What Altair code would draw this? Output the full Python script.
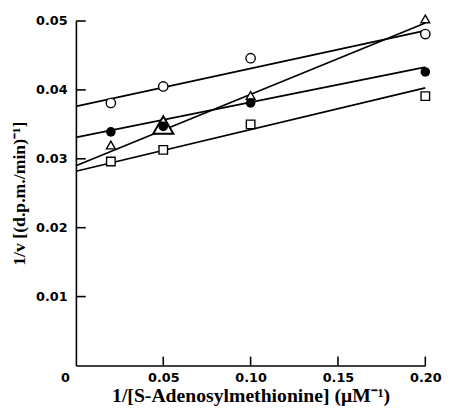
import altair as alt
import pandas as pd

# reciprocal substrate concentrations (uM^-1)
conc_inv = [0.02, 0.05, 0.10, 0.20]
# 1/v values for the four series
open_circle = [0.0381, 0.0405, 0.0446, 0.0481]
filled_circle = [0.0339, 0.0347, 0.0381, 0.0426]
open_triangle = [0.0320, 0.0349, 0.0392, 0.0503]
open_square = [0.0296, 0.0313, 0.0350, 0.0391]

# fitted straight lines (end values at x = 0 and x = 0.20)
fit_x = [0.0, 0.20]
fit_open_circle = [0.0376, 0.0486]
fit_filled_circle = [0.0331, 0.0433]
fit_open_triangle = [0.0290, 0.0497]
fit_open_square = [0.0282, 0.0403]

x_label_values = [0, 0.05, 0.10, 0.15, 0.20]
x_tick_values = [0.05, 0.10, 0.15, 0.20]
y_tick_values = [0.01, 0.02, 0.03, 0.04, 0.05]

series = {
    "open_circle": (open_circle, fit_open_circle),
    "filled_circle": (filled_circle, fit_filled_circle),
    "open_triangle": (open_triangle, fit_open_triangle),
    "open_square": (open_square, fit_open_square),
}

pts = pd.DataFrame(
    [{"series": s, "x": xv, "y": yv} for s, (ys_, _) in series.items() for xv, yv in zip(conc_inv, ys_)]
)
fits = pd.DataFrame(
    [{"series": s, "x": xv, "y": yv} for s, (_, fy) in series.items() for xv, yv in zip(fit_x, fy)]
)
yt = pd.DataFrame({"y": y_tick_values})
xt = pd.DataFrame({"x": x_tick_values})

W, H = 355, 350
xs = alt.Scale(domain=[0, 0.20], nice=False, zero=False)
ys = alt.Scale(domain=[0, 0.05], nice=False, zero=False)

x_axis = alt.Axis(
    values=x_label_values,
    labelExpr="datum.value === 0 ? '0' : format(datum.value, '.2f')",
    labelOffset={"condition": {"test": "datum.value === 0", "value": -11}, "value": 0},
    ticks=False, tickSize=0, grid=False,
    domainColor="black", domainWidth=1.6,
    labelFont="DejaVu Sans", labelFontWeight="bold", labelFontSize=13,
    labelColor="black", labelPadding=6, labelFlush=False,
    title="1/[S-Adenosylmethionine] (μM⁻¹)",
    titleFont="Liberation Serif", titleFontSize=20, titleFontWeight="bold",
    titleColor="black", titlePadding=2,
)
y_axis = alt.Axis(
    values=y_tick_values, format=".2f",
    ticks=False, tickSize=0, grid=False,
    domainColor="black", domainWidth=1.6,
    labelFont="DejaVu Sans", labelFontWeight="bold", labelFontSize=13,
    labelColor="black", labelPadding=9, labelFlush=False,
    title="1/v [(d.p.m./min)⁻¹]",
    titleFont="Liberation Serif", titleFontSize=18, titleFontWeight="bold",
    titleColor="black", titlePadding=7,
)

X = alt.X("x:Q", scale=xs, axis=x_axis)
Y = alt.Y("y:Q", scale=ys, axis=y_axis)

lines = alt.Chart(fits).mark_line(color="black", strokeWidth=1.7).encode(x=X, y=Y, detail="series:N")

base = alt.Chart(pts)
oc = base.transform_filter("datum.series == 'open_circle'").mark_point(
    shape="circle", filled=True, fill="white", stroke="black", strokeWidth=1.4, size=90, opacity=1
).encode(x=X, y=Y)
sq = base.transform_filter("datum.series == 'open_square'").mark_point(
    shape="square", filled=True, fill="white", stroke="black", strokeWidth=1.4, size=75, opacity=1
).encode(x=X, y=Y)
tr = base.transform_filter("datum.series == 'open_triangle' && datum.x != 0.05").mark_point(
    shape="triangle-up", filled=True, fill="white", stroke="black", strokeWidth=1.4, size=80, opacity=1
).encode(x=X, y=Y)
trbig = base.transform_filter("datum.series == 'open_triangle' && datum.x == 0.05").mark_point(
    shape="triangle-up", filled=True, fill="white", stroke="black", strokeWidth=2.0, size=420, opacity=1
).encode(x=X, y=Y)
fc = base.transform_filter("datum.series == 'filled_circle'").mark_point(
    shape="circle", filled=True, color="black", size=95, opacity=1
).encode(x=X, y=Y)

yticks = alt.Chart(yt).mark_rule(color="black", strokeWidth=1.6).encode(
    y=Y, x=alt.value(0), x2=alt.value(10)
)
xticks = alt.Chart(xt).mark_rule(color="black", strokeWidth=1.6).encode(
    x=X, y=alt.value(H), y2=alt.value(H - 9)
)

chart = (
    alt.layer(lines, yticks, xticks, oc, sq, tr, trbig, fc)
    .properties(
        width=W, height=H,
        autosize=alt.AutoSizeParams(type="none"),
        padding={"left": 69, "top": 10, "right": 20, "bottom": 40},
        background="white",
    )
    .configure_view(stroke=None)
)

chart.save("out.html", embed_options={"renderer": "svg", "actions": False})
